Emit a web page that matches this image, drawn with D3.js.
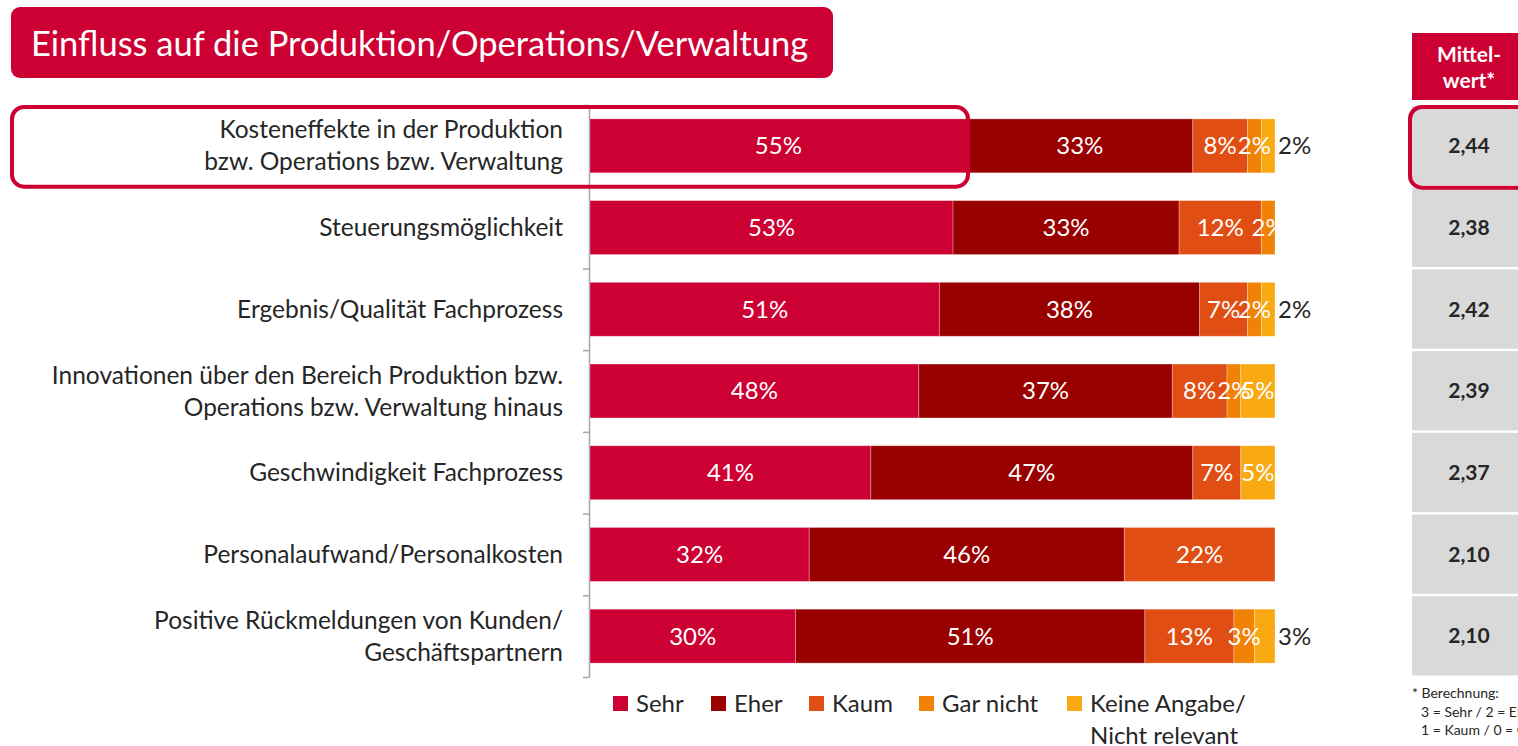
<!DOCTYPE html>
<html>
<head>
<meta charset="utf-8">
<script src="https://cdn.jsdelivr.net/npm/d3@7"></script>
<style>
  body { margin: 0; background: #fff; }
  svg { display: block; font-family: Lato, "Open Sans", sans-serif; }
</style>
</head>
<body>
<div id="chart"></div>
<script>
const categories = [
    "Kosteneffekte in der Produktion\nbzw. Operations bzw. Verwaltung",
    "Steuerungsmöglichkeit",
    "Ergebnis/Qualität Fachprozess",
    "Innovationen über den Bereich Produktion bzw.\nOperations bzw. Verwaltung hinaus",
    "Geschwindigkeit Fachprozess",
    "Personalaufwand/Personalkosten",
    "Positive Rückmeldungen von Kunden/\nGeschäftspartnern"
];
const seriesNames = ["Sehr", "Eher", "Kaum", "Gar nicht", "Keine Angabe"];
const sehr = [55, 53, 51, 48, 41, 32, 30];
const eher = [33, 33, 38, 37, 47, 46, 51];
const kaum = [8, 12, 7, 8, 7, 22, 13];
const garNicht = [2, 2, 2, 2, 0, 0, 3];
const keineAngabe = [2, 0, 2, 5, 5, 0, 3];
const mittelwert = [2.44, 2.38, 2.42, 2.39, 2.37, 2.10, 2.10];
const legendLabels = ["Sehr", "Eher", "Kaum", "Gar nicht", "Keine Angabe/\nNicht relevant"];

const width = 1518, height = 746;
const red = "#cc0033";
const textColor = "#262626";
const color = d3.scaleOrdinal()
    .domain(seriesNames)
    .range(["#cc0033", "#990000", "#e14e13", "#f08206", "#f9aa12"]);

const table = categories.map((c, i) => ({
    cat: i,
    "Sehr": sehr[i],
    "Eher": eher[i],
    "Kaum": kaum[i],
    "Gar nicht": garNicht[i],
    "Keine Angabe": keineAngabe[i]
}));
const stacked = d3.stack().keys(seriesNames)(table);

const x = d3.scaleLinear().domain([0, 100]).range([590, 1275]);
const y = d3.scaleBand()
    .domain(d3.range(categories.length))
    .range([105, 677])
    .paddingInner(0.34)
    .paddingOuter(0.17);
const yEdge = d3.scaleLinear().domain([0, categories.length]).range([105, 677]);

const svg = d3.select("#chart").append("svg")
    .attr("width", width)
    .attr("height", height);

// title box
svg.append("rect")
    .attr("x", 11).attr("y", 7)
    .attr("width", 822).attr("height", 71)
    .attr("rx", 9)
    .attr("fill", red);
svg.append("text")
    .attr("x", 31).attr("y", 56)
    .attr("fill", "#fff")
    .attr("font-size", 34.5)
    .text("Einfluss auf die Produktion/Operations/Verwaltung");

// axis with ticks on the category edges
svg.append("g")
    .attr("transform", "translate(589,0)")
    .call(d3.axisLeft(yEdge).tickValues(d3.range(categories.length + 1)).tickFormat("").tickSize(6).tickSizeOuter(0))
    .call(g => g.selectAll("line, path").attr("stroke", "#a6a6a6").attr("stroke-width", 1.5));

// category labels
const catLabels = svg.append("g")
    .selectAll("text")
    .data(categories)
    .join("text")
    .attr("text-anchor", "end")
    .attr("fill", textColor)
    .attr("font-size", 24.5);
catLabels.each(function (d, i) {
    const lines = d.split("\n");
    const cy = y(i) + y.bandwidth() / 2;
    d3.select(this).selectAll("tspan")
        .data(lines)
        .join("tspan")
        .attr("x", 563)
        .attr("y", (l, j) => cy + (j - (lines.length - 1) / 2) * 32)
        .attr("dy", "0.35em")
        .text(l => l);
});

// bars
svg.append("g")
    .selectAll("g")
    .data(stacked)
    .join("g")
    .attr("fill", d => color(d.key))
    .selectAll("rect")
    .data(d => d)
    .join("rect")
    .attr("x", d => x(d[0]))
    .attr("y", d => y(d.data.cat))
    .attr("width", d => x(d[1]) - x(d[0]))
    .attr("height", y.bandwidth())
    .attr("stroke", "#fff")
    .attr("stroke-opacity", 0.35)
    .attr("stroke-width", 0.8);

svg.append("clipPath").attr("id", "barClip")
    .append("rect")
    .attr("x", x(0)).attr("y", 0)
    .attr("width", x(100) - x(0)).attr("height", height);

// segment labels
const segs = stacked.flatMap(s => s.map(d => ({ key: s.key, v: d[1] - d[0], d })))
    .filter(s => s.v > 0);
const isOutside = s => s.key === "Keine Angabe" && s.v <= 3;

svg.append("g")
    .attr("clip-path", "url(#barClip)")
    .selectAll("text")
    .data(segs.filter(s => !isOutside(s)))
    .join("text")
    .attr("x", s => (x(s.d[0]) + x(s.d[1])) / 2)
    .attr("y", s => y(s.d.data.cat) + y.bandwidth() / 2)
    .attr("dy", "0.35em")
    .attr("text-anchor", "middle")
    .attr("fill", "#fff")
    .attr("font-size", 24)
    .text(s => s.v + "%");

svg.append("g")
    .selectAll("text")
    .data(segs.filter(isOutside))
    .join("text")
    .attr("x", s => x(s.d[1]) + 3)
    .attr("y", s => y(s.d.data.cat) + y.bandwidth() / 2)
    .attr("dy", "0.35em")
    .attr("fill", textColor)
    .attr("font-size", 24)
    .text(s => s.v + "%");

// highlight of first row
svg.append("rect")
    .attr("x", 12).attr("y", yEdge(0) + 2)
    .attr("width", 956).attr("height", yEdge(1) - yEdge(0) - 2)
    .attr("rx", 12)
    .attr("fill", "none")
    .attr("stroke", red)
    .attr("stroke-width", 4);

// legend
const legendX = [613, 711, 809, 919, 1067];
const legend = svg.append("g")
    .selectAll("g")
    .data(seriesNames)
    .join("g")
    .attr("transform", (d, i) => `translate(${legendX[i]},696)`);
legend.append("rect")
    .attr("width", 15).attr("height", 15)
    .attr("fill", d => color(d));
legend.append("text")
    .attr("fill", textColor)
    .attr("font-size", 24)
    .selectAll("tspan")
    .data((d, i) => legendLabels[i].split("\n"))
    .join("tspan")
    .attr("x", 23)
    .attr("y", (l, j) => 8 + j * 32)
    .attr("dy", "0.35em")
    .text(l => l);

// Mittelwert column
svg.append("rect")
    .attr("x", 1412).attr("y", 33)
    .attr("width", 120).attr("height", 67)
    .attr("fill", red);
svg.append("text")
    .attr("text-anchor", "middle")
    .attr("fill", "#fff")
    .attr("font-size", 21)
    .attr("font-weight", "bold")
    .selectAll("tspan")
    .data(["Mittel-", "wert*"])
    .join("tspan")
    .attr("x", 1469)
    .attr("y", (l, j) => 62 + j * 26)
    .text(l => l);

const cells = svg.append("g")
    .selectAll("g")
    .data(mittelwert)
    .join("g");
cells.append("rect")
    .attr("x", 1412)
    .attr("y", (d, i) => yEdge(i) + 1)
    .attr("width", 120)
    .attr("height", yEdge(1) - yEdge(0) - 2.5)
    .attr("fill", "#d9d9d9");
cells.append("text")
    .attr("x", 1469)
    .attr("y", (d, i) => y(i) + y.bandwidth() / 2)
    .attr("dy", "0.35em")
    .attr("text-anchor", "middle")
    .attr("fill", textColor)
    .attr("font-size", 21)
    .attr("font-weight", "bold")
    .text(d => d3.format(".2f")(d).replace(".", ","));

svg.append("rect")
    .attr("x", 1410).attr("y", yEdge(0) + 2)
    .attr("width", 130).attr("height", yEdge(1) - yEdge(0) - 1)
    .attr("rx", 12)
    .attr("fill", "none")
    .attr("stroke", red)
    .attr("stroke-width", 4);

// footnote
svg.append("text")
    .attr("fill", textColor)
    .attr("font-size", 14)
    .selectAll("tspan")
    .data(["* Berechnung:", "3 = Sehr / 2 = Eher /", "1 = Kaum / 0 = Gar nicht"])
    .join("tspan")
    .attr("x", (l, j) => j === 0 ? 1412 : 1421)
    .attr("y", (l, j) => 698 + j * 18.5)
    .text(l => l);
</script>
</body>
</html>
